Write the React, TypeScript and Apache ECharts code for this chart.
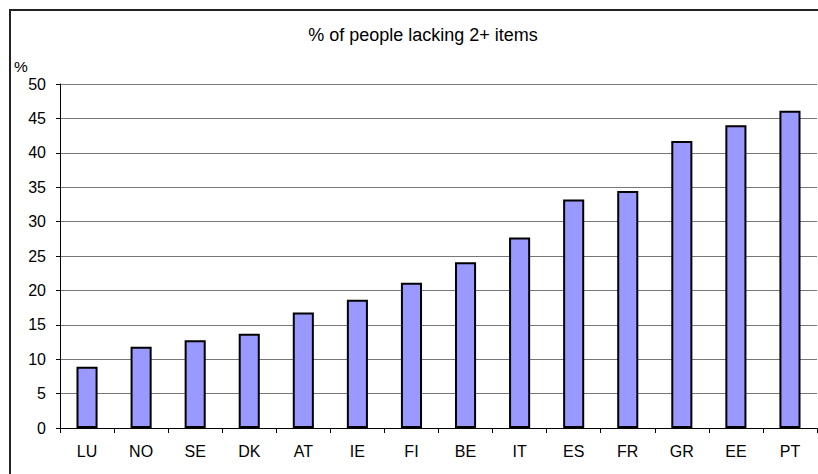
import React, { useEffect, useRef } from "react";
import * as echarts from "echarts";

const categories = ["LU", "NO", "SE", "DK", "AT", "IE", "FI", "BE", "IT", "ES", "FR", "GR", "EE", "PT"];
const values = [8.9, 11.8, 12.75, 13.7, 16.8, 18.65, 21.1, 24.1, 27.7, 33.2, 34.45, 41.7, 44.0, 46.1];
const titleText = "% of people lacking 2+ items";
const yUnit = "%";

export default function App() {
  const ref = useRef<HTMLDivElement>(null);
  useEffect(() => {
    if (!ref.current) return;
    const chart = echarts.init(ref.current, null, { renderer: "svg" });
    const font = "'Liberation Sans', Arial, sans-serif";
    chart.setOption({
      animation: false,
      backgroundColor: "#ffffff",
      title: {
        text: titleText,
        left: 418,
        top: 21,
        textAlign: "center",
        textStyle: { fontFamily: font, fontSize: 18, fontWeight: "normal", color: "#000" },
      },
      graphic: [
        {
          type: "line",
          shape: { x1: 9, y1: 10, x2: 818, y2: 10 },
          style: { stroke: "#222", lineWidth: 2 },
          z: 100,
        },
        {
          type: "line",
          shape: { x1: 10, y1: 9, x2: 10, y2: 474 },
          style: { stroke: "#222", lineWidth: 2 },
          z: 100,
        },
        {
          type: "text",
          x: 14,
          y: 58,
          style: { text: yUnit, fontFamily: font, fontSize: 15.5, fill: "#000" },
        },
      ],
      grid: { left: 60, right: 1, top: 84, bottom: 46, containLabel: false },
      xAxis: {
        type: "category",
        data: categories,
        boundaryGap: true,
        axisLine: { show: true, lineStyle: { color: "#000", width: 1 } },
        axisTick: { show: true, alignWithLabel: false, length: 5, lineStyle: { color: "#000" } },
        axisLabel: { fontFamily: font, fontSize: 16, color: "#000", margin: 15 },
        splitLine: { show: false },
      },
      yAxis: {
        type: "value",
        min: 0,
        max: 50,
        interval: 5,
        axisLine: { show: true, lineStyle: { color: "#000", width: 1 } },
        axisTick: { show: true, length: 4, lineStyle: { color: "#000" } },
        axisLabel: { fontFamily: font, fontSize: 16, color: "#000", margin: 14 },
        splitLine: { show: true, lineStyle: { color: "#777", width: 1 } },
      },
      series: [
        {
          type: "bar",
          data: values,
          barWidth: "39%",
          itemStyle: { color: "#9999FF", borderColor: "#000", borderWidth: 2 },
        },
      ],
    });
    return () => chart.dispose();
  }, []);
  return (
    <div
      ref={ref}
      style={{ position: "fixed", left: 0, top: 0, width: 818, height: 474 }}
    />
  );
}
